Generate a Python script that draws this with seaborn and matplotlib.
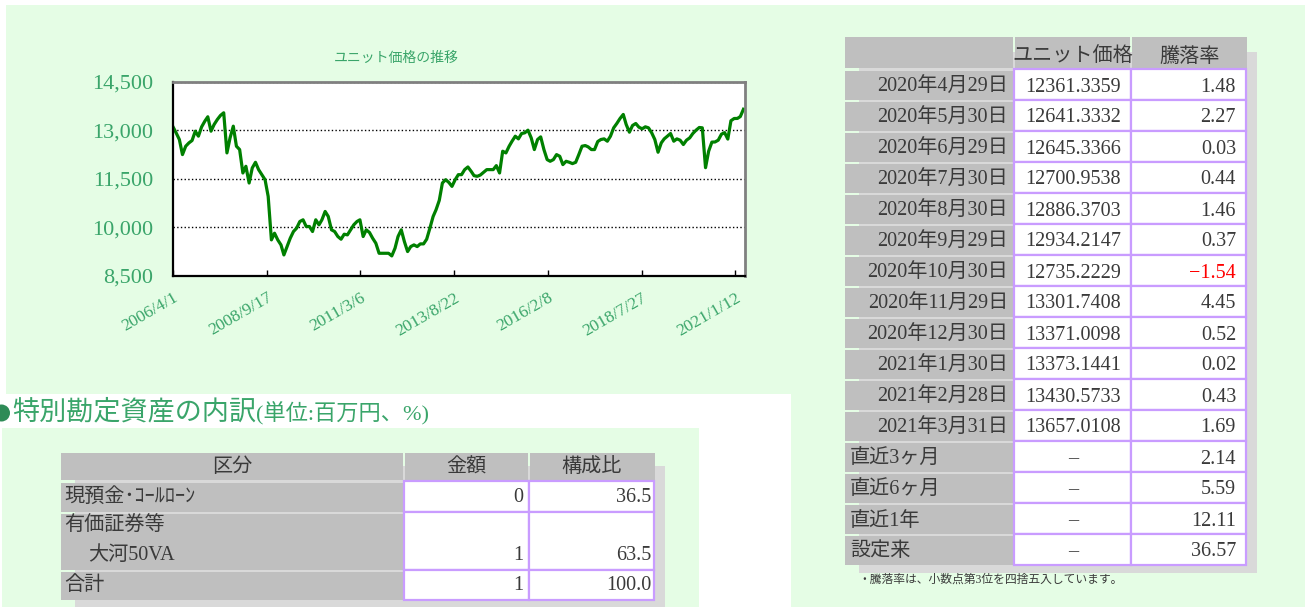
import matplotlib
matplotlib.use("Agg")
import matplotlib.pyplot as plt
from matplotlib.patches import Rectangle, Circle
from matplotlib.ticker import FuncFormatter
import pandas as pd
import seaborn as sns

# ユニット価格 (月初の値, 2006/4 - 2021/3) + 2021/3/31
unit_price = [
    13114, 12928, 12721, 12255, 12514, 12617, 12690, 12979, 12824, 13114, 13290, 13424,  # 2006年度
    12979, 13186, 13341, 13466, 13548, 12307, 12772, 13134, 12514, 12410, 11686, 11893,  # 2007
    11376, 11841, 12017, 11790, 11634, 11479, 10962, 9617, 9824, 9617, 9462, 9152,  # 2008
    9410, 9669, 9876, 9979, 10186, 10238, 10031, 10031, 9876, 10238, 10083, 10238,  # 2009
    10497, 10341, 9928, 9876, 9721, 9638, 9793, 9772, 9928, 10083, 10186, 10238,  # 2010
    9721, 9928, 9845, 9669, 9514, 9203, 9203, 9203, 9203, 9121, 9359, 9721,  # 2011
    9928, 9565, 9255, 9410, 9462, 9410, 9493, 9493, 9638, 9979, 10341, 10548,  # 2012
    10838, 11376, 11479, 11397, 11272, 11479, 11634, 11634, 11790, 11872, 11738, 11603,  # 2013
    11583, 11624, 11707, 11790, 11790, 11790, 11914, 11686, 12359, 12307, 12514, 12669,  # 2014
    12824, 12741, 12907, 12928, 13010, 12772, 12410, 12721, 12803, 12410, 12100, 12048,  # 2015
    12100, 12255, 12203, 11945, 12048, 12017, 11976, 12017, 12255, 12514, 12534, 12493,  # 2016
    12410, 12410, 12659, 12721, 12741, 12669, 12824, 13083, 13217, 13372, 13497, 13186,  # 2017
    12948, 13155, 13217, 13103, 13052, 13114, 13083, 12928, 12721, 12328, 12617, 12741,  # 2018
    12824, 12907, 12669, 12741, 12700, 12566, 12700, 12772, 12907, 13010, 13093, 13083,  # 2019
    11850, 12361, 12641, 12645, 12701, 12886, 12934, 12735, 13302, 13371, 13373, 13431,  # 2020
    13657,
]
price_dates = pd.date_range("2006-04-01", periods=180, freq="MS").append(
    pd.DatetimeIndex(["2021-03-31"]))

x_tick_labels = ["2006/4/1", "2008/9/17", "2011/3/6", "2013/8/22",
                 "2016/2/8", "2018/7/27", "2021/1/12"]
y_ticks = [8500, 10000, 11500, 13000, 14500]

# 右の表
month_labels = ["2020年4月29日", "2020年5月30日", "2020年6月29日", "2020年7月30日",
                "2020年8月30日", "2020年9月29日", "2020年10月30日", "2020年11月29日",
                "2020年12月30日", "2021年1月30日", "2021年2月28日", "2021年3月31日"]
month_prices = ["12361.3359", "12641.3332", "12645.3366", "12700.9538",
                "12886.3703", "12934.2147", "12735.2229", "13301.7408",
                "13371.0098", "13373.1441", "13430.5733", "13657.0108"]
month_rates = [1.48, 2.27, 0.03, 0.44, 1.46, 0.37, -1.54, 4.45, 0.52, 0.02, 0.43, 1.69]
period_labels = ["直近3ヶ月", "直近6ヶ月", "直近1年", "設定来"]
period_rates = [2.14, 5.59, 12.11, 36.57]

# 左下の表
asset_names = ["現預金･ｺｰﾙﾛｰﾝ", "有価証券等", "大河50VA", "合計"]
asset_amounts = ["0", "", "1", "1"]
asset_ratios = ["36.5", "", "63.5", "100.0"]

GREEN_BG = "#e5fde5"
GREEN_TXT = "#3aa56a"
GRAY = "#bfbfbf"
SHADOW = "#d9d9d9"
PURPLE = "#c99cff"
TXT = "#3a3a3a"

plt.rcParams["font.family"] = ["Liberation Serif", "Noto Sans CJK JP"]

fig = plt.figure(figsize=(13.05, 6.07), dpi=100)
bg = fig.add_axes([0, 0, 1, 1])
bg.set_xlim(0, 1305)
bg.set_ylim(607, 0)
bg.axis("off")

def box(x0, y0, x1, y1, fc, ec="none", lw=0, z=1):
    bg.add_patch(Rectangle((x0, y0), x1 - x0, y1 - y0, fc=fc, ec=ec, lw=lw, zorder=z))

# 背景パネル
box(6, 5, 791, 394, GREEN_BG)
box(791, 5, 1305, 607, GREEN_BG)
box(2, 428, 699, 607, GREEN_BG)

# ---- 折れ線グラフ ----
ax = fig.add_axes([173 / 1305, 1 - 276 / 607, 572 / 1305, 194 / 607])
ax.set_facecolor("white")
df = pd.DataFrame({"date": price_dates, "price": unit_price})
sns.lineplot(data=df, x="date", y="price", ax=ax, color="#008000", linewidth=2.3)
ax.set_xlim(pd.Timestamp("2006-04-01"), pd.Timestamp("2021-04-15"))
ax.set_ylim(8500, 14500)
ax.set_xticks(pd.to_datetime(x_tick_labels, format="%Y/%m/%d"))
ax.set_xticklabels(x_tick_labels, rotation=30, ha="right", rotation_mode="anchor",
                   color=GREEN_TXT, fontsize=12.5)
ax.set_yticks(y_ticks)
ax.yaxis.set_major_formatter(FuncFormatter(lambda v, p: f"{v:,.0f}"))
for t in ax.get_yticklabels():
    t.set_color(GREEN_TXT)
    t.set_fontsize(16)
ax.tick_params(axis="y", length=0, pad=14)
ax.tick_params(axis="x", direction="in", length=4, width=1, pad=10, colors="black")
for t in ax.get_xticklabels():
    t.set_color(GREEN_TXT)
ax.set_xlabel("")
ax.set_ylabel("")
ax.grid(axis="y", linestyle=":", color="black", linewidth=1)
ax.grid(axis="x", visible=False)
for s in ["left", "bottom"]:
    ax.spines[s].set_color("black")
    ax.spines[s].set_linewidth(1.6)
for s in ["top", "right"]:
    ax.spines[s].set_color("#808080")
    ax.spines[s].set_linewidth(2)
fig.text(396 / 1305, 1 - 58 / 607, "ユニット価格の推移", ha="center", va="center",
         fontsize=10, color=GREEN_TXT)

# ---- 右の表 ----
FS = 14.5
box(859, 52, 1257, 573, SHADOW)
box(845, 37, 1013, 67.5, GRAY, z=2)
box(1015, 37, 1130, 67.5, GRAY, z=2)
box(1132, 37, 1247, 67.5, GRAY, z=2)
bg.text(1073, 57, "ユニット価格", ha="center", va="center", fontsize=FS, color=TXT, zorder=5)
bg.text(1190, 57, "騰落率", ha="center", va="center", fontsize=FS, color=TXT, zorder=5)

rows = list(zip(month_labels, month_prices, month_rates)) + \
    [(lbl, "–", r) for lbl, r in zip(period_labels, period_rates)]
for i, (lbl, price, rate) in enumerate(rows):
    top = 69 + 31 * i
    box(845, top + 1.5, 1013, top + 31 - 0.5, GRAY, z=2)
    box(1014, top, 1131, top + 31, "white", PURPLE, 1.6, z=2)
    box(1131, top, 1246, top + 31, "white", PURPLE, 1.6, z=2)
    yc = top + 18
    if i < len(month_labels):
        bg.text(1008, yc, lbl, ha="right", va="center", fontsize=FS, color=TXT, zorder=5)
    else:
        bg.text(850, yc, lbl, ha="left", va="center", fontsize=FS, color=TXT, zorder=5)
    bg.text(1073, yc, price, ha="center", va="center", fontsize=FS, color=TXT, zorder=5)
    bg.text(1236, yc, f"{rate:.2f}".replace("-", "−"), ha="right", va="center", fontsize=FS,
            color="red" if rate < 0 else TXT, zorder=5)
bg.text(858, 580, "・騰落率は、小数点第3位を四捨五入しています。", ha="left", va="center",
        fontsize=8.5, color=TXT, zorder=5)

# ---- 見出し ----
bg.add_patch(Circle((1.5, 413), 8.5, fc="#2e8b57", ec="none", zorder=3))
h1 = bg.text(12, 413, "特別勘定資産の内訳", ha="left", va="center", fontsize=19.5,
             color=GREEN_TXT, zorder=5)
bg.annotate("(単位:百万円、%)", xy=(1, 0), xycoords=h1, ha="left", va="bottom",
            fontsize=16, color=GREEN_TXT, zorder=5)

# ---- 左下の表 ----
box(75, 466, 665, 607, SHADOW)
box(61, 453, 403, 480, GRAY, z=2)
box(405, 453, 528, 480, GRAY, z=2)
box(530, 453, 655, 480, GRAY, z=2)
bg.text(232, 468, "区分", ha="center", va="center", fontsize=FS, color=TXT, zorder=5)
bg.text(466, 468, "金額", ha="center", va="center", fontsize=FS, color=TXT, zorder=5)
bg.text(592, 468, "構成比", ha="center", va="center", fontsize=FS, color=TXT, zorder=5)
for (y0, y1) in [(481, 512), (512, 570), (570, 600)]:
    box(61, y0 + 1.5, 403, y1 - 0.5, GRAY, z=2)
    box(404, y0, 529, y1, "white", PURPLE, 1.6, z=2)
    box(529, y0, 654, y1, "white", PURPLE, 1.6, z=2)
line_y = [497, 526, 555, 586]
indent = [64, 64, 88, 64]
for name, amt, ratio, yc, xl in zip(asset_names, asset_amounts, asset_ratios, line_y, indent):
    bg.text(xl, yc, name, ha="left", va="center", fontsize=FS, color=TXT, zorder=5)
    bg.text(523, yc, amt, ha="right", va="center", fontsize=FS, color=TXT, zorder=5)
    bg.text(651, yc, ratio, ha="right", va="center", fontsize=FS, color=TXT, zorder=5)

fig.savefig("out.png", dpi=100)
